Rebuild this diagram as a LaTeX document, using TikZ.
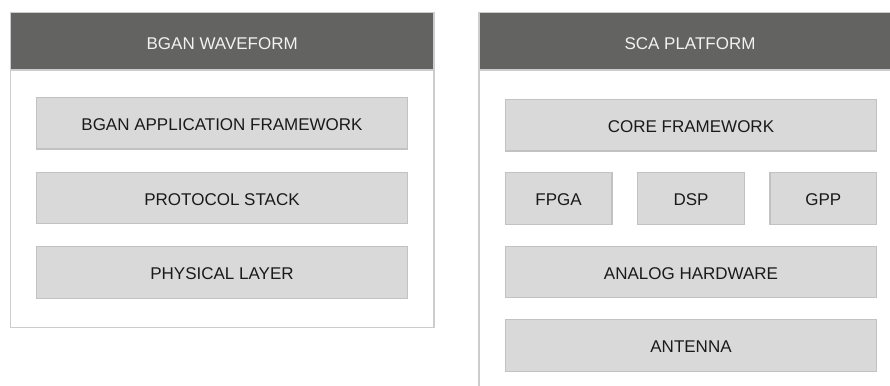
\documentclass[tikz,border=0pt]{standalone}
\usepackage{fontspec}
\setmainfont{Liberation Sans}
\definecolor{hdr}{HTML}{636361}
\definecolor{pnl}{HTML}{CCCCCC}
\definecolor{boxfill}{HTML}{D9D9D9}
\definecolor{boxline}{HTML}{C2C2C2}
\definecolor{txt}{HTML}{1A1A1A}
\definecolor{hdrtxt}{HTML}{F2F2F2}
\tikzset{
  panel/.style={draw=pnl, line width=1.5pt, fill=white},
  header/.style={draw=pnl, line width=1.5pt, fill=hdr},
  hdrlabel/.style={text=hdrtxt, font=\fontsize{17}{19}\selectfont},
  layerbox/.style={draw=boxline, line width=1.2pt, fill=boxfill},
  layerlabel/.style={text=txt, font=\fontsize{17}{19}\selectfont},
}
\begin{document}
\begin{tikzpicture}[x=1pt,y=-1pt]
\useasboundingbox (0,0) rectangle (890,385);
\clip (0,0) rectangle (890,385);
% left panel
\draw[panel] (10.5,12.7) rectangle (434,327.7);
\draw[header] (10.5,12.7) rectangle (434,70);
\node[hdrlabel] (lh) at (222.2,44) {BGAN WAVEFORM};
\draw[layerbox] (36.3,97.7) rectangle (407.7,149);
\node[layerlabel] (l1) at (222,125) {BGAN APPLICATION FRAMEWORK};
\draw[layerbox] (36.3,172.3) rectangle (407.7,223.7);
\node[layerlabel] (l2) at (222,199.5) {PROTOCOL STACK};
\draw[layerbox] (36.3,246.7) rectangle (407.7,298.3);
\node[layerlabel] (l3) at (222,274) {PHYSICAL LAYER};
% right panel
\draw[panel] (479,12.7) rectangle (905,400);
\draw[header] (479,12.7) rectangle (905,70);
\node[hdrlabel] (rh) at (690,44) {SCA PLATFORM};
\draw[layerbox] (505.3,99.7) rectangle (876.7,151);
\node[layerlabel] (r1) at (691,127) {CORE FRAMEWORK};
\draw[layerbox] (505.3,172.7) rectangle (612,224.3);
\node[layerlabel] (r2) at (558.6,200) {FPGA};
\draw[layerbox] (637.7,172.7) rectangle (744.3,224.3);
\node[layerlabel] (r3) at (691,200) {DSP};
\draw[layerbox] (770,172.7) rectangle (876.7,224.3);
\node[layerlabel] (r4) at (823.3,200) {GPP};
\draw[layerbox] (505.3,246.3) rectangle (876.7,297.7);
\node[layerlabel] (r5) at (691,273.5) {ANALOG HARDWARE};
\draw[layerbox] (505.3,319.7) rectangle (876.7,371.3);
\node[layerlabel] (r6) at (691,347) {ANTENNA};
\end{tikzpicture}
\end{document}
